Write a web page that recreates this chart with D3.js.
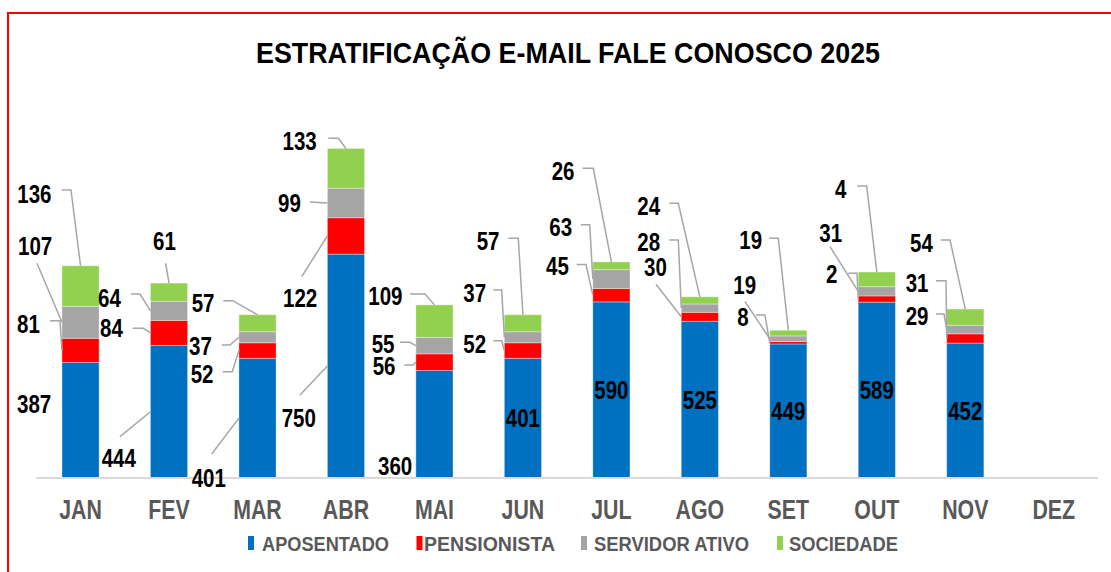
<!DOCTYPE html>
<html>
<head>
<meta charset="utf-8">
<script src="https://cdn.jsdelivr.net/npm/d3@7"></script>
<style>
  html, body { margin: 0; padding: 0; background: #ffffff; }
  svg { display: block; }
  text { font-family: Arial, "Liberation Sans", sans-serif; font-weight: bold; }
</style>
</head>
<body>
<svg id="chart" width="1111" height="572"></svg>
<script>
// ---------------- data ----------------
const title = "ESTRATIFICAÇÃO E-MAIL FALE CONOSCO 2025";
const months = ["JAN","FEV","MAR","ABR","MAI","JUN","JUL","AGO","SET","OUT","NOV","DEZ"];
const seriesNames = ["APOSENTADO","PENSIONISTA","SERVIDOR ATIVO","SOCIEDADE"];
const aposentado    = [387, 444, 401, 750, 360, 401, 590, 525, 449, 589, 452, null];
const pensionista   = [ 81,  84,  52, 122,  56,  52,  45,  30,   8,  21,  31, null];
const servidorAtivo = [107,  64,  37,  99,  55,  37,  63,  28,  19,  31,  29, null];
const sociedade     = [136,  61,  57, 133, 109,  57,  26,  24,  19,  49,  54, null];
// label texts exactly as printed on the source chart (OUT labels are cut off there)
const printedLabelOverrides = { "OUT": { "PENSIONISTA": "2", "SOCIEDADE": "4" } };

// ---------------- styles ----------------
const colors = { "APOSENTADO": "#0070C0", "PENSIONISTA": "#FF0000", "SERVIDOR ATIVO": "#A5A5A5", "SOCIEDADE": "#92D050" };
const W = 1111, H = 572;
const labelFont = 25, labelSX = 0.82;
const axisFont = 27, axisSX = 0.79;

// manual label placement (annotation layout, like dragged Excel data labels):
// t = text left/baseline, l = leader-line start (and elbow); leader end comes from the scales
const labelLayout = {
  JAN: { SOCIEDADE: {t:[17.3,203.3], l:[[61.7,190],[71,190]]},
         "SERVIDOR ATIVO": {t:[18,255], l:[[37,263.3]]},
         PENSIONISTA: {t:[17,333.3], l:[[50,320.7],[60,320.7]]},
         APOSENTADO: {t:[17,412.7], l:null} },
  FEV: { SOCIEDADE: {t:[153,250], l:[[165.7,263.3]]},
         "SERVIDOR ATIVO": {t:[98,306.7], l:[[131,294],[140,294]]},
         PENSIONISTA: {t:[100,336.7], l:[[132.7,328.3],[143.3,328.3]]},
         APOSENTADO: {t:[101.7,466.7], l:[[120,436.7]]} },
  MAR: { SOCIEDADE: {t:[191.7,311.7], l:[[223.3,300.7],[232.7,300.7]]},
         "SERVIDOR ATIVO": {t:[189,355], l:[[221.7,345],[230,345]]},
         PENSIONISTA: {t:[190.7,382.7], l:[[222.7,371.7],[232.3,371.7]]},
         APOSENTADO: {t:[191.7,486.7], l:[[211.7,454]]} },
  ABR: { SOCIEDADE: {t:[282.5,150], l:[[328.3,138.3],[338.3,138.3]]},
         "SERVIDOR ATIVO": {t:[278,211.7], l:[[310,202]]},
         PENSIONISTA: {t:[283,307.3], l:[[301.7,276.7]]},
         APOSENTADO: {t:[281.7,426.7], l:[[300,395]]} },
  MAI: { SOCIEDADE: {t:[368.3,305], l:[[410,294],[425,294]]},
         "SERVIDOR ATIVO": {t:[371.7,353.3], l:[[400,342.3],[410,342.3]]},
         PENSIONISTA: {t:[372.7,375], l:[[404.3,365],[413,365]]},
         APOSENTADO: {t:[378,475], l:null} },
  JUN: { SOCIEDADE: {t:[476.7,250], l:[[508.3,238.3],[518.3,238.3]]},
         "SERVIDOR ATIVO": {t:[463.3,301.7], l:[[493.3,290],[501.7,290]]},
         PENSIONISTA: {t:[463.3,353.3], l:[[493.3,340.7],[501.7,340.7]]},
         APOSENTADO: {inside:true} },
  JUL: { SOCIEDADE: {t:[551.7,180], l:[[582.7,168.3],[593.3,168.3]]},
         "SERVIDOR ATIVO": {t:[549.3,236], l:[[580.7,224.7],[589.7,224.7]]},
         PENSIONISTA: {t:[546,275], l:[[576.7,264.5],[586,264.5]]},
         APOSENTADO: {inside:true} },
  AGO: { SOCIEDADE: {t:[637.3,215], l:[[669.3,203.3],[678.3,203.3]]},
         "SERVIDOR ATIVO": {t:[637.3,251], l:[[669.3,240],[678.3,240]]},
         PENSIONISTA: {t:[644,276], l:[[656,284.3]]},
         APOSENTADO: {inside:true} },
  SET: { SOCIEDADE: {t:[739.3,249], l:[[769.3,238.3],[778.3,238.3]]},
         "SERVIDOR ATIVO": {t:[733.3,294], l:[[745,301.7]]},
         PENSIONISTA: {t:[737.3,326], l:[[756,315],[765,315]]},
         APOSENTADO: {inside:true} },
  OUT: { SOCIEDADE: {t:[835,198.3], l:[[857.3,186],[866.7,186]]},
         "SERVIDOR ATIVO": {t:[819.3,241.7], l:[[830,246.7]]},
         PENSIONISTA: {t:[826,283.3], l:[[848.3,273.3],[857,273.3]]},
         APOSENTADO: {inside:true} },
  NOV: { SOCIEDADE: {t:[910,251.7], l:[[940.7,240],[950,240]]},
         PENSIONISTA: {t:[905.7,291.7], l:[[936,280.7],[946,280.7]]},
         "SERVIDOR ATIVO": {t:[905.7,325], l:[[936,314],[944,314]]},
         APOSENTADO: {inside:true} }
};

// ---------------- build ----------------
const svg = d3.select("#chart");
svg.append("rect").attr("width", W).attr("height", H).attr("fill", "#fff");

// red frame (only left & top edges visible in the crop)
svg.append("path").attr("d", "M8,572V13H1111")
  .attr("fill", "none").attr("stroke", "#FF0000").attr("stroke-width", 2);

const x = d3.scaleBand().domain(months).range([36.3, 1098]).paddingInner(0.58).paddingOuter(0.29);
const y = d3.scaleLinear().domain([0, 1200]).range([478, 478 - 1200 * 0.2985]);

const table = months.map((m, i) => ({
  month: m,
  "APOSENTADO": aposentado[i],
  "PENSIONISTA": pensionista[i],
  "SERVIDOR ATIVO": servidorAtivo[i],
  "SOCIEDADE": sociedade[i]
}));
const stacked = d3.stack().keys(seriesNames).value((d, k) => d[k] == null ? 0 : d[k])(table);

// title
svg.append("text").attr("x", 568).attr("y", 63).attr("text-anchor", "middle")
  .attr("font-size", 30).attr("fill", "#000")
  .attr("textLength", 624).attr("lengthAdjust", "spacingAndGlyphs")
  .text(title);

// bars
const gBars = svg.append("g");
stacked.forEach(layer => {
  gBars.selectAll(null).data(layer.filter(d => d.data[layer.key] != null)).enter().append("rect")
    .attr("x", d => x(d.data.month))
    .attr("width", x.bandwidth())
    .attr("y", d => y(d[1]))
    .attr("height", d => y(d[0]) - y(d[1]))
    .attr("fill", colors[layer.key])
    .attr("stroke", "#ffffff").attr("stroke-opacity", 0.35).attr("stroke-width", 1);
});

// axis baseline + month labels
const xAxis = d3.axisBottom(x).tickSize(0).tickPadding(0);
const gAxis = svg.append("g").attr("transform", `translate(0,${y(0)})`).call(xAxis);
gAxis.select(".domain").attr("d", `M${x.range()[0]},0H${x.range()[1]}`)
  .attr("stroke", "#D9D9D9").attr("stroke-width", 2);
gAxis.selectAll(".tick text")
  .attr("font-size", axisFont).attr("fill", "#595959")
  .attr("font-family", 'Arial, "Liberation Sans", sans-serif').attr("font-weight", "bold")
  .attr("dy", null).attr("y", 0)
  .attr("transform", `translate(0,${519 - y(0)}) scale(${axisSX},1)`)
  .attr("text-anchor", "middle");

// data labels + leader lines
const gLab = svg.append("g");
const lineGen = d3.line();
stacked.forEach(layer => {
  layer.forEach(d => {
    const m = d.data.month;
    const v = d.data[layer.key];
    if (v == null) return;
    const lay = labelLayout[m] && labelLayout[m][layer.key];
    if (!lay) return;
    const ov = printedLabelOverrides[m] && printedLabelOverrides[m][layer.key];
    const txt = ov != null ? ov : String(v);
    const cx = x(m) + x.bandwidth() / 2;
    if (lay.inside) {
      gLab.append("text")
        .attr("transform", `translate(${cx},${(y(d[0]) + y(d[1])) / 2}) scale(${labelSX},1)`)
        .attr("text-anchor", "middle").attr("dy", "0.36em")
        .attr("font-size", labelFont).attr("fill", "#000").text(txt);
      return;
    }
    if (lay.l) {
      const end = layer.key === "SOCIEDADE"
        ? [cx, y(d[1])]
        : [x(m), (y(d[0]) + y(d[1])) / 2];
      gLab.append("path").attr("d", lineGen([...lay.l, end]))
        .attr("fill", "none").attr("stroke", "#A6A6A6").attr("stroke-width", 1.5);
    }
    gLab.append("text")
      .attr("transform", `translate(${lay.t[0]},${lay.t[1]}) scale(${labelSX},1)`)
      .attr("font-size", labelFont).attr("fill", "#000").text(txt);
  });
});

// legend
const legendItems = [
  { name: "APOSENTADO",     mx: 248,   tx: 262, tw: 127 },
  { name: "PENSIONISTA",    mx: 416.5, tx: 424, tw: 131 },
  { name: "SERVIDOR ATIVO", mx: 581,   tx: 594, tw: 155 },
  { name: "SOCIEDADE",      mx: 777,   tx: 789, tw: 109 }
];
const gLeg = svg.append("g");
legendItems.forEach(it => {
  gLeg.append("rect").attr("x", it.mx).attr("y", 536).attr("width", 6).attr("height", 14)
    .attr("fill", colors[it.name]);
  gLeg.append("text").attr("x", it.tx).attr("y", 550.5)
    .attr("font-size", 20).attr("fill", "#595959")
    .attr("textLength", it.tw).attr("lengthAdjust", "spacingAndGlyphs")
    .text(it.name);
});
</script>
</body>
</html>
